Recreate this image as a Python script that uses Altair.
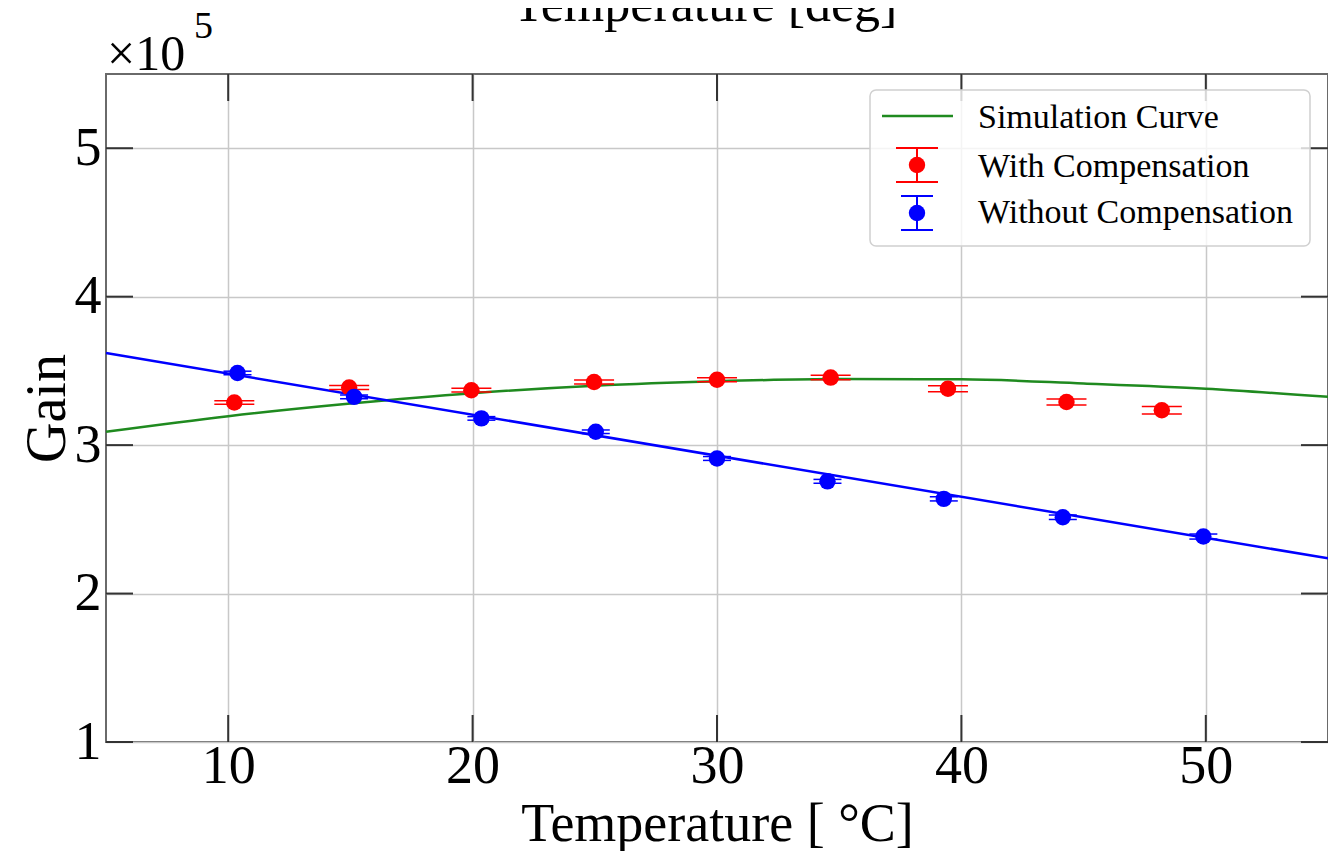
import altair as alt
import pandas as pd

SERIF = "Liberation Serif"
W, H = 1222, 668

# ---- data (Gain in units of 1e5) ----
sim_x = [5, 10, 15, 20, 25, 30, 35, 40, 45, 50, 55]
sim_y = [3.09, 3.195, 3.28, 3.35, 3.40, 3.43, 3.445, 3.443, 3.415, 3.38, 3.325]

with_x = [10.25, 14.95, 19.95, 24.97, 30.0, 34.65, 39.45, 44.3, 48.2]
with_y = [3.287, 3.388, 3.37, 3.425, 3.44, 3.455, 3.38, 3.29, 3.235]
with_err = [0.011, 0.013, 0.013, 0.014, 0.014, 0.015, 0.02, 0.02, 0.025]

without_x = [10.38, 15.15, 20.36, 25.04, 30.0, 34.52, 39.28, 44.15, 49.9]
without_y = [3.486, 3.325, 3.18, 3.09, 2.91, 2.756, 2.638, 2.514, 2.384]
without_err = [0.012, 0.012, 0.012, 0.012, 0.013, 0.013, 0.014, 0.015, 0.017]

fit_x = [5, 55]
fit_y = [3.62, 2.237]

x_ticks = [10, 20, 30, 40, 50]
y_ticks = [1, 2, 3, 4, 5]

legend_labels = ["Simulation Curve", "With Compensation", "Without Compensation"]

sim_df = pd.DataFrame({"x": sim_x, "y": sim_y})
with_df = pd.DataFrame({"x": with_x, "y": with_y, "e": with_err})
without_df = pd.DataFrame({"x": without_x, "y": without_y, "e": without_err})
fit_df = pd.DataFrame({"x": fit_x, "y": fit_y})
xt_df = pd.DataFrame({"t": x_ticks})
yt_df = pd.DataFrame({"t": y_ticks})
one = pd.DataFrame({"a": [0]})

xs = alt.Scale(domain=[5, 55], nice=False, zero=False)
ys = alt.Scale(domain=[1, 5.5], nice=False, zero=False)

x_axis = alt.Axis(values=x_ticks, format="d", grid=True, gridColor="#c8c8c8", gridWidth=1.5,
                  ticks=False, domain=False, labelFont=SERIF, labelFontSize=54, labelPadding=-3,
                  labelColor="black", title="Temperature [ \u00b0C]", titleFont=SERIF,
                  titleFontSize=54, titleFontWeight="normal", titleColor="black",
                  titleY=98, titleBaseline="alphabetic")
y_axis = alt.Axis(values=y_ticks, format="d", grid=True, gridColor="#c8c8c8", gridWidth=1.5,
                  ticks=False, domain=False, labelFont=SERIF, labelFontSize=54, labelPadding=5,
                  labelColor="black", title="Gain", titleFont=SERIF, titleFontSize=56,
                  titleFontWeight="normal", titleColor="black", titleX=-42, titleY=H / 2,
                  titleAngle=270, titleBaseline="alphabetic", titleAlign="center")


def X(field):
    return alt.X(field, type="quantitative", scale=xs, axis=x_axis)


def Y(field):
    return alt.Y(field, type="quantitative", scale=ys, axis=y_axis)


sim_line = alt.Chart(sim_df).mark_line(color="#1f8a1f", strokeWidth=2.5, interpolate="monotone").encode(
    x=X("x"), y=Y("y"))

fit_line = alt.Chart(fit_df).mark_line(color="#0000ff", strokeWidth=2.5).encode(
    x=X("x"), y=Y("y"))


def err_layers(df, color, cap):
    base = alt.Chart(df).transform_calculate(hi="datum.y + datum.e", lo="datum.y - datum.e")
    bar = base.mark_rule(color=color, strokeWidth=1.5).encode(x=X("x"), y=Y("lo"), y2="hi:Q")
    cap_hi = base.mark_tick(orient="horizontal", color=color, size=cap, thickness=1.5,
                            opacity=1).encode(x=X("x"), y=Y("hi"))
    cap_lo = base.mark_tick(orient="horizontal", color=color, size=cap, thickness=1.5,
                            opacity=1).encode(x=X("x"), y=Y("lo"))
    pts = base.mark_circle(color=color, size=270, opacity=1).encode(x=X("x"), y=Y("y"))
    return [bar, cap_hi, cap_lo, pts]


red_layers = err_layers(with_df, "#ff0000", 40)
blue_layers = err_layers(without_df, "#0000ff", 28)

# inward ticks on all four sides
TL = 27
tick_style = dict(color="#333333", strokeWidth=2)
tick_bottom = alt.Chart(xt_df).mark_rule(**tick_style).encode(
    x=X("t"), y=alt.value(H), y2=alt.value(H - TL))
tick_top = alt.Chart(xt_df).mark_rule(**tick_style).encode(
    x=X("t"), y=alt.value(0), y2=alt.value(TL))
tick_left = alt.Chart(yt_df).mark_rule(**tick_style).encode(
    y=Y("t"), x=alt.value(0), x2=alt.value(TL))
tick_right = alt.Chart(yt_df).mark_rule(**tick_style).encode(
    y=Y("t"), x=alt.value(W - TL), x2=alt.value(W))

# legend box
leg_box = alt.Chart(one).mark_rect(fill="white", fillOpacity=0.8, stroke="#d0d0d0",
                                   strokeWidth=1.5, cornerRadius=6).encode(
    x=alt.value(764), x2=alt.value(1204), y=alt.value(16), y2=alt.value(172))
leg_green = alt.Chart(one).mark_rule(color="#1f8a1f", strokeWidth=2.5).encode(
    x=alt.value(776), x2=alt.value(847), y=alt.value(42))


def leg_err(color, cy, half):
    vbar = alt.Chart(one).mark_rule(color=color, strokeWidth=2).encode(
        x=alt.value(811), y=alt.value(cy - 17), y2=alt.value(cy + 17))
    c1 = alt.Chart(one).mark_rule(color=color, strokeWidth=2).encode(
        x=alt.value(811 - half), x2=alt.value(811 + half), y=alt.value(cy - 17))
    c2 = alt.Chart(one).mark_rule(color=color, strokeWidth=2).encode(
        x=alt.value(811 - half), x2=alt.value(811 + half), y=alt.value(cy + 17))
    dot = alt.Chart(one).mark_circle(color=color, size=270, opacity=1).encode(
        x=alt.value(811), y=alt.value(cy))
    return [vbar, c1, c2, dot]


leg_red = leg_err("#ff0000", 91, 21)
leg_blue = leg_err("#0000ff", 139, 16)

leg_texts = []
for lab, by in zip(legend_labels, [54, 103, 149]):
    leg_texts.append(alt.Chart(one).mark_text(text=lab, font=SERIF, fontSize=34, align="left",
                                              baseline="alphabetic", color="black").encode(
        x=alt.value(872), y=alt.value(by)))

# exponent label and (cut-off) top title
exp_main = alt.Chart(one).mark_text(text="\u00d710", font=SERIF, fontSize=50, align="left",
                                    baseline="alphabetic", color="black").encode(
    x=alt.value(1), y=alt.value(-4))
exp_sup = alt.Chart(one).mark_text(text="5", font=SERIF, fontSize=38, align="left",
                                   baseline="alphabetic", color="black").encode(
    x=alt.value(88), y=alt.value(-36))
top_title = alt.Chart(one).mark_text(text="Temperature [deg]", font=SERIF, fontSize=52,
                                     align="center", baseline="alphabetic", color="black").encode(
    x=alt.value(599), y=alt.value(-53))

chart = alt.layer(
    sim_line, fit_line, *red_layers, *blue_layers,
    tick_bottom, tick_top, tick_left, tick_right,
    leg_box, leg_green, *leg_red, *leg_blue, *leg_texts,
    exp_main, exp_sup, top_title,
).properties(
    width=W, height=H,
    autosize=alt.AutoSizeParams(type="none"),
    padding={"left": 98, "top": 66, "right": 0, "bottom": 112},
).configure(
    background="white",
    view=alt.ViewConfig(stroke="#6a6a6a", strokeWidth=2),
)

chart.save("out.html", embed_options={"renderer": "svg", "actions": False})
